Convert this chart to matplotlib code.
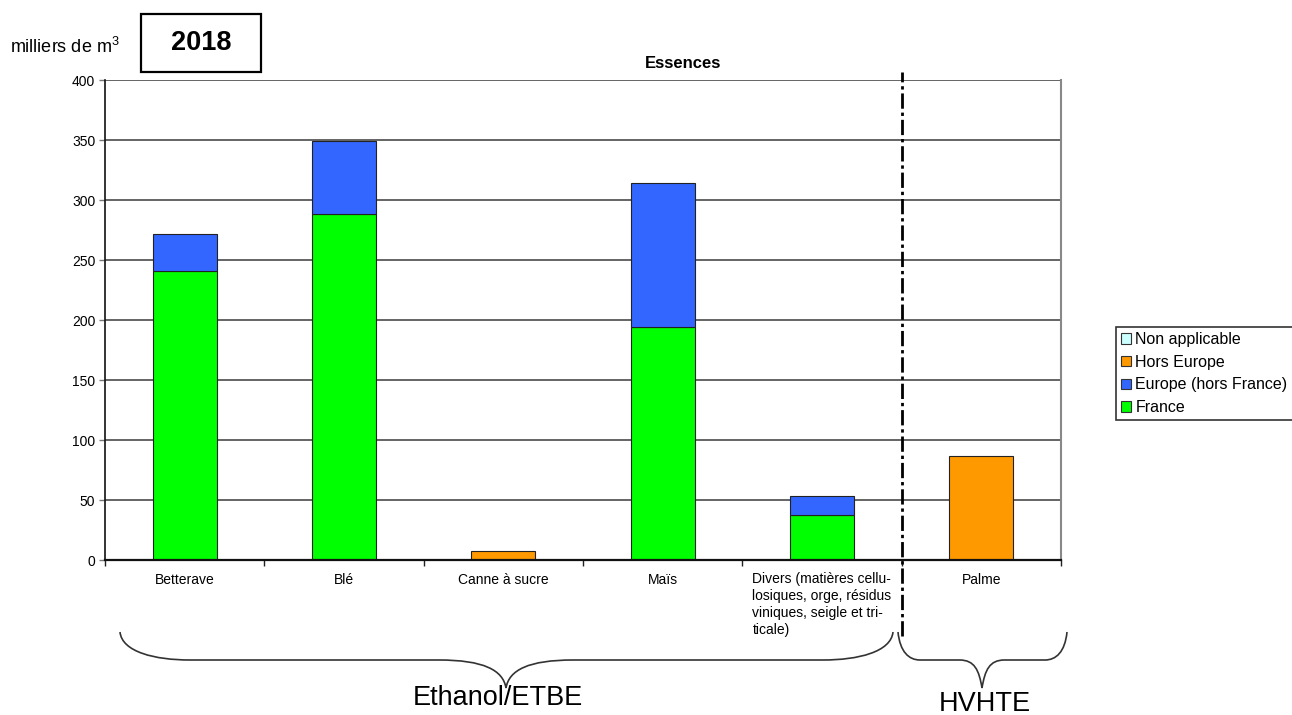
import matplotlib
matplotlib.use("Agg")
import matplotlib.pyplot as plt
from matplotlib.path import Path
from matplotlib.patches import PathPatch, Rectangle, Patch
import numpy as np

plt.rcParams['font.family'] = ['Liberation Sans', 'DejaVu Sans']
plt.rcParams['mathtext.fontset'] = 'custom'
plt.rcParams['mathtext.rm'] = 'Liberation Sans'
plt.rcParams['mathtext.it'] = 'Liberation Sans'

# Data (milliers de m3)
categories = ["Betterave", "Blé", "Canne à sucre", "Maïs",
              "Divers (matières cellu-\nlosiques, orge, résidus\nviniques, seigle et tri-\nticale)",
              "Palme"]
france = [241, 288, 0, 194, 37.5, 0]
europe_hors_france = [31, 61, 0, 120, 15.5, 0]
hors_europe = [0, 0, 7.5, 0, 0, 87]
non_applicable = [0, 0, 0, 0, 0, 0]
y_ticks = [0, 50, 100, 150, 200, 250, 300, 350, 400]

series_labels = ["Non applicable", "Hors Europe", "Europe (hors France)", "France"]
colors = {"Non applicable": "#CCFFFF", "Hors Europe": "#FF9900",
          "Europe (hors France)": "#3366FF", "France": "#00FF00"}

W, H = 1292, 715
fig = plt.figure(figsize=(W / 100, H / 100), dpi=100)
ax = fig.add_axes([105 / W, 1 - 560 / H, (1061 - 105) / W, (560 - 80) / H])

x = np.arange(len(categories))
bw = 0.4
edge = dict(edgecolor="#222222", linewidth=0.8)
b = np.zeros(len(categories))
ax.bar(x, france, bw, bottom=b, color=colors["France"], zorder=3, **edge)
b += np.array(france)
ax.bar(x, europe_hors_france, bw, bottom=b, color=colors["Europe (hors France)"], zorder=3, **edge)
b += np.array(europe_hors_france)
he = np.array(hors_europe)
ax.bar(x[he > 0], he[he > 0], bw, bottom=b[he > 0], color=colors["Hors Europe"], zorder=3, **edge)
b += he
na = np.array(non_applicable)
if (na > 0).any():
    ax.bar(x[na > 0], na[na > 0], bw, bottom=b[na > 0], color=colors["Non applicable"], zorder=3, **edge)

ax.set_xlim(-0.5, len(categories) - 0.5)
ax.set_ylim(0, 400)
ax.set_yticks(y_ticks)
ax.set_yticklabels([str(v) for v in y_ticks])
ax.yaxis.grid(True, color="#3a3a3a", linewidth=1.1, zorder=0)
ax.set_axisbelow(True)

ax.set_xticks(x)
ax.set_xticklabels(categories, fontsize=10, linespacing=1.25, multialignment="left",
                   va="top")
ax.set_xticks(np.arange(-0.5, len(categories)), minor=True)
ax.tick_params(axis="x", which="major", length=0, pad=9)
ax.tick_params(axis="x", which="minor", length=4, width=1, color="#222222", direction="out")
ax.tick_params(axis="y", length=4, width=1, color="#777777", labelsize=10, pad=3)

ax.spines["top"].set_visible(False)
ax.spines["left"].set_color("#111111")
ax.spines["left"].set_linewidth(1.2)
ax.spines["bottom"].set_color("#111111")
ax.spines["bottom"].set_linewidth(1.6)
ax.spines["right"].set_color("#888888")
ax.spines["right"].set_linewidth(1.5)
ax.spines["bottom"].set_zorder(4)

# Separator between ethanol and HVHTE feedstocks
ax.axvline(4.5, ymin=(560 - 636) / 480, ymax=(560 - 72) / 480, clip_on=False,
           color="black", linewidth=2.0, dashes=(5.5, 1.4, 1.2, 1.4), zorder=5)

# Titles and labels
fig.text(683 / W, 1 - 63 / H, "Essences", fontsize=12, fontweight="bold",
         ha="center", va="center")
fig.text(10 / W, 1 - 47 / H, r"milliers de m$^{3}$", fontsize=13, ha="left", va="center")
fig.patches.append(Rectangle((141 / W, 1 - 72 / H), 120 / W, 58 / H,
                             transform=fig.transFigure, fill=False,
                             edgecolor="black", linewidth=1.6))
fig.text(201 / W, 1 - 43 / H, "2018", fontsize=19.5, fontweight="bold",
         ha="center", va="center")


def brace(x0, x1, xt, ytop, ymid, ytip, r0=50, r1=40):
    """Curly brace in pixel coordinates (y downward)."""
    pts = [(x0, ytop), (x0 + 2, ymid - 8), (x0 + r0 * 0.5, ymid), (x0 + r0, ymid),
           (xt - r1 * 1.5, ymid),
           (xt - r1 * 0.5, ymid), (xt - 3, ymid + 10), (xt, ytip),
           (xt + 3, ymid + 10), (xt + r1 * 0.5, ymid), (xt + r1 * 1.5, ymid),
           (x1 - r0, ymid),
           (x1 - r0 * 0.5, ymid), (x1 - 2, ymid - 8), (x1, ytop)]
    codes = [Path.MOVETO, Path.CURVE4, Path.CURVE4, Path.CURVE4,
             Path.LINETO,
             Path.CURVE4, Path.CURVE4, Path.CURVE4,
             Path.CURVE4, Path.CURVE4, Path.CURVE4,
             Path.LINETO,
             Path.CURVE4, Path.CURVE4, Path.CURVE4]
    verts = [(px / W, 1 - py / H) for px, py in pts]
    fig.patches.append(PathPatch(Path(verts, codes), transform=fig.transFigure,
                                 fill=False, edgecolor="#333333", linewidth=1.2))


brace(120, 893, 506, 632, 660, 688, r0=70, r1=45)
brace(898, 1067, 982, 632, 660, 688, r0=22, r1=15)
fig.text(498 / W, 1 - 698 / H, "Ethanol/ETBE", fontsize=19.5, ha="center", va="center")
fig.text(985 / W, 1 - 704 / H, "HVHTE", fontsize=19.5, ha="center", va="center")

# Legend
handles = [Patch(facecolor=colors[l], edgecolor="#333333", linewidth=0.8) for l in series_labels]
leg = fig.legend(handles, series_labels, loc="upper left",
                 bbox_to_anchor=(1116 / W, 1 - 327 / H), fontsize=11.5,
                 frameon=True, fancybox=False, edgecolor="black",
                 handlelength=0.65, handleheight=0.65, handletextpad=0.25,
                 labelspacing=0.48, borderpad=0.32, borderaxespad=0)
leg.get_frame().set_linewidth(1.2)

fig.savefig("out.png", dpi=100)
